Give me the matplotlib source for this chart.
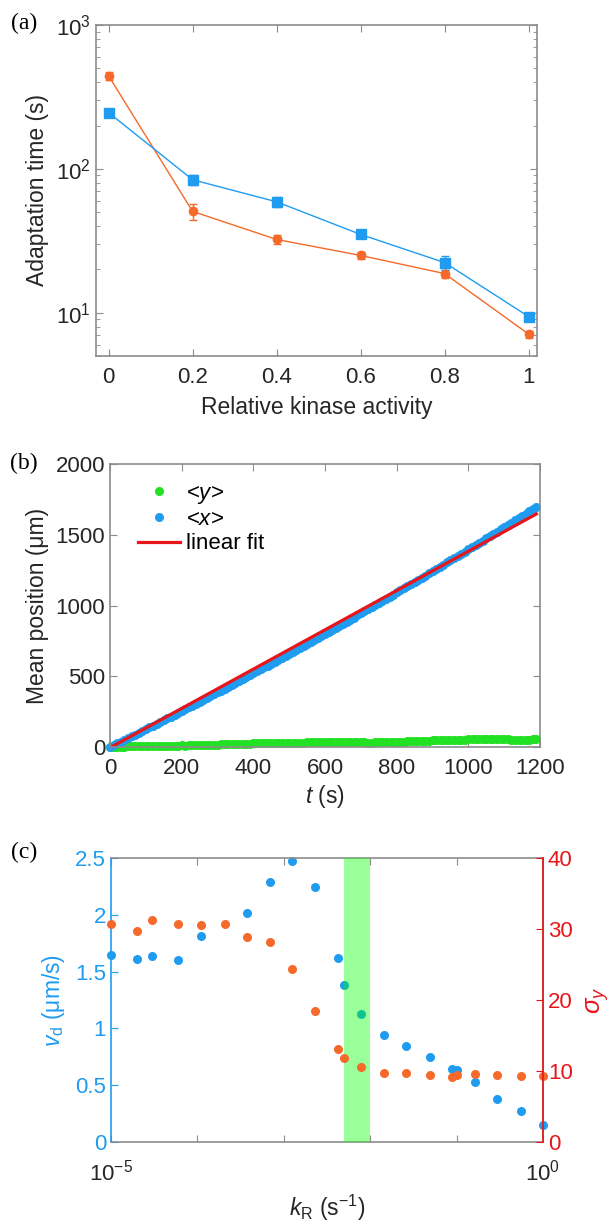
import numpy as np
import matplotlib
matplotlib.use("Agg")
import matplotlib.pyplot as plt
from matplotlib.ticker import FixedLocator, NullFormatter, NullLocator

plt.rcParams['font.family'] = ['Liberation Sans', 'DejaVu Sans']
plt.rcParams['mathtext.fontset'] = 'custom'
plt.rcParams['mathtext.rm'] = 'Liberation Sans'
plt.rcParams['mathtext.it'] = 'Liberation Sans:italic'
plt.rcParams['mathtext.bf'] = 'Liberation Sans:bold'

# ---- (a) adaptation time vs relative kinase activity ----
activity = [0, 0.2, 0.4, 0.6, 0.8, 1.0]
t_blue = [246, 84, 59, 35, 22.3, 9.4]
t_blue_err = [8, 6.8, 4.6, 1.0, 2.5, 0.3]
t_orange = [443, 50.6, 32.3, 25, 18.7, 7.1]
t_orange_err = [29, 6.5, 2.3, 1.4, 1.2, 0.4]

# ---- (b) mean position vs time ----
t_b = list(range(0, 1200, 10))
mean_x = [0, 12, 25, 37, 50, 62, 75, 87, 100, 113, 125, 138, 151, 164, 176, 189, 202, 215, 228, 241,
          254, 267, 280, 293, 306, 319, 333, 346, 359, 372, 386, 399, 412, 426, 439, 453, 466, 480, 493, 507,
          521, 534, 548, 562, 575, 589, 603, 617, 631, 645, 659, 673, 687, 701, 715, 729, 743, 757, 771, 786,
          800, 814, 829, 843, 857, 872, 886, 901, 915, 930, 944, 959, 974, 988, 1003, 1018, 1032, 1047, 1062, 1077,
          1092, 1107, 1122, 1137, 1152, 1167, 1182, 1197, 1212, 1227, 1243, 1258, 1273, 1288, 1304, 1319, 1335, 1350, 1366, 1381,
          1397, 1412, 1428, 1443, 1459, 1475, 1490, 1506, 1522, 1538, 1554, 1570, 1585, 1601, 1617, 1633, 1649, 1665, 1682, 1698]
mean_y = [0, -3, -2, 2, 3, 4, 5, 6, 6, 7, 7, 8, 7, 8, 9, 8, 9, 10, 9, 10,
          11, 10, 11, 12, 12, 13, 14, 14, 15, 16, 17, 18, 18, 19, 20, 21, 22, 22, 23, 24,
          25, 25, 26, 26, 27, 27, 28, 28, 27, 28, 29, 29, 30, 31, 31, 32, 33, 34, 35, 35,
          36, 36, 37, 36, 36, 35, 34, 34, 33, 33, 32, 32, 31, 31, 32, 32, 33, 33, 34, 35,
          36, 37, 38, 40, 41, 42, 43, 44, 44, 45, 46, 47, 48, 49, 50, 51, 51, 52, 53, 53,
          54, 54, 55, 55, 55, 56, 56, 56, 57, 56, 55, 54, 53, 52, 52, 52, 53, 53, 54, 55]
fit_t = [0, 1190]
fit_x = [-5, 1647]

# ---- (c) drift velocity and sigma_y vs k_R ----
kR_v = [1e-5, 2.0e-5, 3.0e-5, 6.0e-5, 1.1e-4, 3.8e-4, 6.9e-4, 1.26e-3, 2.3e-3, 4.2e-3, 5.0e-3,
        7.8e-3, 1.45e-2, 2.6e-2, 4.9e-2, 8.9e-2, 0.1, 0.162, 0.295, 0.55, 1.0]
vd = [1.645, 1.613, 1.636, 1.604, 1.81, 2.015, 2.289, 2.477, 2.241, 1.616, 1.378,
      1.131, 0.940, 0.849, 0.749, 0.646, 0.635, 0.529, 0.376, 0.273, 0.150]
kR_s = [1e-5, 2.0e-5, 3.0e-5, 6.0e-5, 1.1e-4, 2.1e-4, 3.8e-4, 6.9e-4, 1.26e-3, 2.3e-3, 4.2e-3, 5.0e-3,
        7.8e-3, 1.45e-2, 2.6e-2, 4.9e-2, 8.9e-2, 0.1, 0.162, 0.295, 0.55, 1.0]
sigma_y = [30.7, 29.75, 31.2, 30.7, 30.6, 30.7, 28.85, 28.2, 24.4, 18.4, 13.06, 11.9,
           10.5, 9.73, 9.68, 9.4, 9.16, 9.45, 9.63, 9.45, 9.35, 9.35]
band = [5e-3, 1e-2]

BLUE = '#1f9cf0'
ORANGE = '#f5692a'
RED = '#e8161b'
GREEN = '#22e022'
GRAY = '#8c8c8c'
TXT = '#262626'
FS = 16     # tick labels
LFS = 16.5  # axis labels

W, H = 614, 1225
fig = plt.figure(figsize=(W / 100, H / 100), dpi=100)


def box(l, t, r, b):
    # pixel box -> figure fraction
    return [l / W, 1 - b / H, (r - l) / W, (b - t) / H]


def style(ax):
    for s in ax.spines.values():
        s.set_color(GRAY)
        s.set_linewidth(1.2)
    ax.tick_params(which='both', direction='in', top=True, right=True, colors=GRAY,
                   labelcolor=TXT, labelsize=FS)
    ax.tick_params(which='major', length=5)
    ax.tick_params(which='minor', length=3)
    ax.tick_params(axis='x', pad=8)


# (a)
ax1 = fig.add_axes(box(96, 25, 537, 356))
ax1.errorbar(activity, t_orange, yerr=t_orange_err, color=ORANGE, lw=1, marker='o', ms=6,
             capsize=3, elinewidth=1, mec=ORANGE, mfc=ORANGE)
ax1.errorbar(activity, t_blue, yerr=t_blue_err, color=BLUE, lw=1, marker='s', ms=6.5,
             capsize=3, elinewidth=1, mec=BLUE, mfc=BLUE)
ax1.set_yscale('log')
ax1.set_ylim(5, 1000)
ax1.set_xlim(-0.03, 1.02)
ax1.set_xticks(activity)
ax1.set_xticklabels(['0', '0.2', '0.4', '0.6', '0.8', '1'])
ax1.set_yticks([10, 100, 1000])
ax1.set_yticklabels(['$10^1$', '$10^2$', '$10^3$'])
style(ax1)
ax1.set_xlabel('Relative kinase activity', fontsize=LFS, color=TXT, labelpad=6)
ax1.set_ylabel('Adaptation time (s)', fontsize=LFS, color=TXT, labelpad=5)

# (b)
ax2 = fig.add_axes(box(110, 464, 540, 747))
ax2.plot(t_b, mean_y, 'o', color=GREEN, ms=6.5, mec='none', label='<$y$>', clip_on=False)
ax2.plot(t_b, mean_x, 'o', color=BLUE, ms=6.5, mec='none', label='<$x$>', clip_on=False)
ax2.plot(fit_t, fit_x, '-', color=RED, lw=2.3, label='linear fit')
ax2.set_xlim(0, 1200)
ax2.set_ylim(0, 2000)
ax2.set_xticks(range(0, 1201, 200))
ax2.set_yticks(range(0, 2001, 500))
style(ax2)
ax2.set_xlabel('$t$ (s)', fontsize=LFS, color=TXT, labelpad=3)
ax2.set_ylabel('Mean position (μm)', fontsize=LFS, color=TXT, labelpad=5)
ax2.legend(loc='upper left', frameon=False, fontsize=FS, handlelength=1.9, handletextpad=0.25,
           labelspacing=0.15, borderaxespad=0.0, bbox_to_anchor=(0.045, 0.965))

# (c)
ax3 = fig.add_axes(box(111, 858, 543, 1142))
ax3.plot(kR_v, vd, 'o', color=BLUE, ms=6.5, mec='none', zorder=2, clip_on=False)
ax3.axvspan(band[0], band[1], color=(0, 1, 0), alpha=0.4, lw=0, zorder=3)
ax3.set_xscale('log')
ax3.set_xlim(1e-5, 1)
ax3.set_ylim(0, 2.5)
ax3.set_yticks([0, 0.5, 1, 1.5, 2, 2.5])
ax3.set_yticklabels(['0', '0.5', '1', '1.5', '2', '2.5'])
ax3.xaxis.set_major_locator(FixedLocator([1e-5, 1e-4, 1e-3, 1e-2, 1e-1, 1]))
ax3.set_xticklabels(['$10^{-5}$', '', '', '', '', '$10^0$'])
ax3.xaxis.set_minor_locator(NullLocator())
ax3.xaxis.set_minor_formatter(NullFormatter())

ax4 = ax3.twinx()
ax4.plot(kR_s, sigma_y, 'o', color=ORANGE, ms=6.5, mec='none', clip_on=False)
ax4.set_ylim(0, 40)
ax4.set_yticks([0, 10, 20, 30, 40])

for s in ax3.spines.values():
    s.set_color(GRAY)
    s.set_linewidth(1.2)
ax3.spines['left'].set_color(BLUE)
ax4.spines['left'].set_visible(False)
ax4.spines['top'].set_visible(False)
ax4.spines['bottom'].set_visible(False)
ax4.spines['right'].set_color(RED)
ax4.spines['right'].set_linewidth(1.2)
ax3.tick_params(axis='x', which='both', direction='in', top=True, colors=GRAY,
                labelcolor=TXT, labelsize=FS, length=5, pad=13)
ax3.tick_params(axis='y', direction='in', right=False, colors=BLUE, labelsize=FS, length=5)
ax4.tick_params(axis='y', direction='in', colors=RED, labelsize=FS, length=5)
ax3.set_xlabel('$k_\\mathrm{R}$ (s$^{-1}$)', fontsize=LFS, color=TXT, labelpad=5)
ax3.set_ylabel('$v_\\mathrm{d}$ (μm/s)', fontsize=LFS, color=BLUE, labelpad=6)
ax4.set_ylabel('$\\sigma_y$', fontsize=LFS + 2, color=RED, rotation=90, labelpad=8)

# panel letters
for lab, y in [('(a)', 23), ('(b)', 463), ('(c)', 852)]:
    fig.text(24 / W, 1 - y / H, lab, fontsize=17, family='Liberation Serif',
             color='black', ha='center', va='center')

fig.savefig('out.png', dpi=100)
